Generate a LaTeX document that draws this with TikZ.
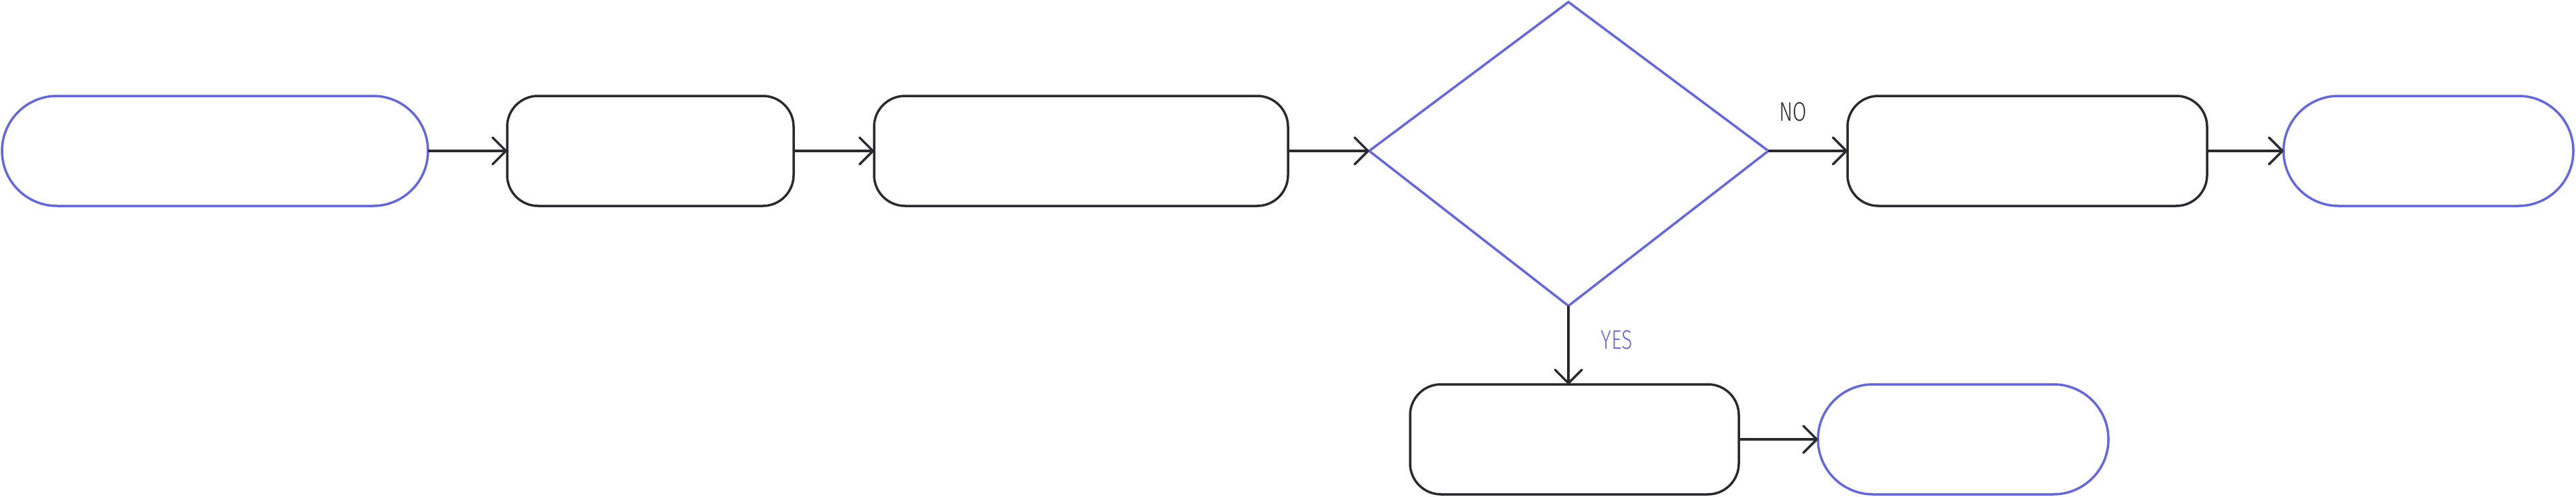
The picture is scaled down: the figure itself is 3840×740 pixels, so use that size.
\documentclass[tikz,border=0pt]{standalone}
\usepackage{fontspec}
\setmainfont{Fira Sans Light}
\usetikzlibrary{arrows.meta}
\definecolor{bl}{HTML}{6366E0}
\definecolor{dk}{HTML}{2A2A2E}
\begin{document}
\begin{tikzpicture}[x=1pt,y=-1pt,
  term/.style={draw=bl,line width=3.5pt,rounded corners=82pt},
  box/.style={draw=dk,line width=3.5pt,rounded corners=46pt},
  arr/.style={draw=dk,line width=3.5pt,-{Straight Barb[length=20pt,width=40pt,line width=3.5pt,round]}},
  lab/.style={font=\fontsize{40}{40}\selectfont}]
\useasboundingbox (0,0) rectangle (3840,740);
\draw[term] (3,143) rectangle (638,307); \coordinate (t1) at (638,225);
\draw[box] (756,143) rectangle (1183,307); \coordinate (b2l) at (756,225); \coordinate (b2r) at (1183,225);
\draw[box] (1303,143) rectangle (1920,307); \coordinate (b3l) at (1303,225); \coordinate (b3r) at (1920,225);
\coordinate (dt) at (2338,3); \coordinate (dl) at (2041,225); \coordinate (dr) at (2636,225); \coordinate (db) at (2338,456);
\draw[draw=bl,line width=3.5pt] (dt) -- (dr) -- (db) -- (dl) -- cycle;
\draw[box] (2754,143) rectangle (3290,307); \coordinate (b4l) at (2754,225); \coordinate (b4r) at (3290,225);
\draw[term] (3404,143) rectangle (3836,307); \coordinate (t5) at (3404,225);
\draw[box] (2102,573) rectangle (2592,737); \coordinate (b6t) at (2338,573); \coordinate (b6r) at (2592,655);
\draw[term] (2710,573) rectangle (3143,737); \coordinate (t7) at (2710,655);
\draw[arr] (t1) -- (b2l);
\draw[arr] (b2r) -- (b3l);
\draw[arr] (b3r) -- (dl);
\draw[arr] (dr) -- (b4l);
\draw[arr] (b4r) -- (t5);
\draw[arr] (db) -- (b6t);
\draw[arr] (b6r) -- (t7);
\node[lab,text=dk,xscale=0.75] (no) at (2673,167) {NO};
\node[lab,text=bl,xscale=0.75] (yes) at (2410,507) {YES};
\end{tikzpicture}
\end{document}
